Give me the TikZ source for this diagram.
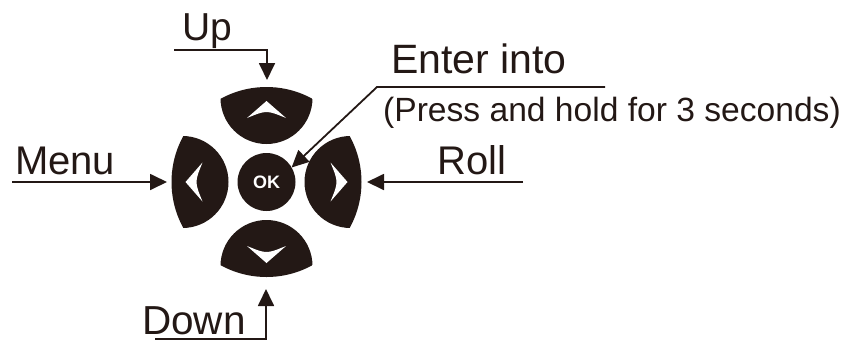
\documentclass[tikz,border=0pt]{standalone}
\usepackage{fontspec}
\setmainfont{Liberation Sans}
\usetikzlibrary{arrows.meta}
\definecolor{ink}{RGB}{35,24,21}
\begin{document}
\begin{tikzpicture}[x=1pt,y=-1pt,
  conn/.style={draw=ink, line width=1.8pt, -{Triangle[length=17pt,width=16pt]}},
  lbl/.style={anchor=base west, inner sep=0pt, text=ink, font=\fontsize{40}{48}\selectfont},
  okbtn/.style={circle, fill=ink, minimum size=58pt, inner sep=0pt, outer sep=0pt, text=white, font=\bfseries\fontsize{18}{20}\selectfont}]
\useasboundingbox (0,0) rectangle (852,341);
% direction pad
\begin{scope}[shift={(266.5,182)}]
  \foreach \a in {0,90,180,270}{
    \begin{scope}[rotate=\a]
      \begin{scope}
        \clip (0,0) circle[radius=95pt];
        \fill[ink] (0,-84) circle[radius=46pt];
      \end{scope}
      \fill[white] (0,-81) -- (19.5,-64) .. controls (0,-72) .. (-19.5,-64) -- cycle;
    \end{scope}
  }
\end{scope}
\node[okbtn] (ok) at (266.5,182) {OK};
% labels
\node[lbl, font=\fontsize{39}{46}\selectfont] (up) at (182,40) {Up};
\node[lbl] (menu) at (15,174) {Menu};
\node[lbl] (roll) at (437,174) {Roll};
\node[lbl, font=\fontsize{40.5}{48}\selectfont] (down) at (142,334) {Down};
\node[lbl, font=\fontsize{41}{48}\selectfont] (enter) at (391,73) {Enter into};
\node[lbl, font=\fontsize{33.6}{40}\selectfont] (hold) at (383,121) {(Press and hold for 3 seconds)};
% connectors
\coordinate (upA) at (174,50); \coordinate (upT) at (267,80);
\draw[conn] (upA) -| (upT);
\coordinate (menuA) at (12,182); \coordinate (menuT) at (167,182);
\draw[conn] (menuA) -- (menuT);
\coordinate (rollA) at (523,182); \coordinate (rollT) at (367,182);
\draw[conn] (rollA) -- (rollT);
\coordinate (downA) at (155,339); \coordinate (downT) at (266,289);
\draw[conn] (downA) -| (downT);
\coordinate (entA) at (605,87); \coordinate (entB) at (377,87);
\draw[conn] (entA) -- (entB) -- (ok.30);
\end{tikzpicture}
\end{document}
